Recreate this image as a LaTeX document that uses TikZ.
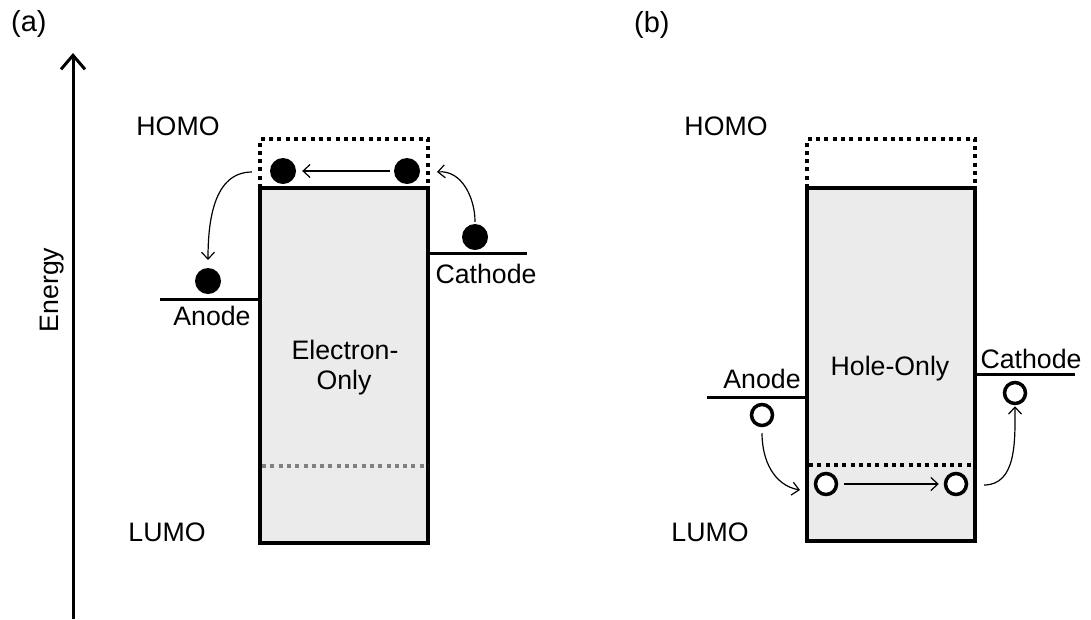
\documentclass[tikz,border=0pt]{standalone}
\usepackage{fontspec}
\setmainfont{Liberation Sans}
\usetikzlibrary{arrows.meta,calc}
\definecolor{boxfill}{RGB}{235,235,235}
\definecolor{dotgray}{RGB}{128,128,128}
\begin{document}
\begin{tikzpicture}[x=1pt,y=1pt,
  lbl/.style={font=\fontsize{26.7}{30}\selectfont, inner sep=0pt, anchor=base},
  panellbl/.style={font=\fontsize{29}{32}\selectfont, inner sep=0pt, anchor=base west},
  layerbox/.style={fill=boxfill, draw=black, line width=4pt},
  dotline/.style={line width=3.5pt, dash pattern=on 4pt off 4.3pt},
  level/.style={line width=3pt},
  electron/.style={circle, fill=black, minimum size=26pt, inner sep=0pt},
  hole/.style={circle, draw=black, fill=white, line width=3.5pt, minimum size=21pt, inner sep=0pt},
  flow/.style={line width=1.2pt, -{Straight Barb[length=7pt,width=13pt,line width=1.2pt]}},
  axisarrow/.style={line width=3pt, -{Straight Barb[length=14pt,width=24pt,line width=3pt]}}
]
\useasboundingbox (0,0) rectangle (1091,-619);

% axis
\coordinate (ax0) at (73,-619);
\coordinate (ax1) at (73,-53);
\draw[axisarrow] (ax0) -- (ax1);
\node[lbl, anchor=center, rotate=90] (energy) at (52,-290) {Energy};

% panel labels
\node[panellbl] (la) at (11,-31) {(a)};
\node[panellbl] (lb) at (634,-32) {(b)};

% ---------- panel (a) ----------
\draw[layerbox] (260,-188) rectangle (428,-543);
\draw[dotline] (260,-188) -- (260,-139) -- (428,-139) -- (428,-188);
\draw[dotline, dotgray] (262,-466) -- (428,-466);
\draw[level] (160,-299) -- (260,-299);
\draw[level] (428,-253) -- (527,-253);

\node[lbl] (homoa) at (178,-135.5) {HOMO};
\node[lbl] (lumoa) at (167,-541.5) {LUMO};
\node[lbl] (anodea) at (212,-325.5) {Anode};
\node[lbl] (cathodea) at (486,-283) {Cathode};
\node[lbl] (eo1) at (345,-359) {Electron-};
\node[lbl] (eo2) at (344,-389) {Only};

\node[electron] (e1) at (283,-171) {};
\node[electron] (e2) at (407,-171) {};
\node[electron] (e3) at (475,-237) {};
\node[electron] (e4) at (208,-281) {};

\draw[flow, shorten <=4pt, shorten >=6pt] (e2.west) -- (e1.east);
\coordinate (ta1) at (437,-172);
\draw[flow] ([yshift=2pt]e3.north) to[out=90,in=5] (ta1);
\coordinate (sa2) at (252,-172);
\coordinate (ta2) at (208,-260);
\draw[flow] (sa2) to[out=180,in=90] (ta2);

% ---------- panel (b) ----------
\draw[layerbox] (807,-188) rectangle (975,-541);
\draw[dotline] (807,-188) -- (807,-139) -- (975,-139) -- (975,-188);
\draw[dotline] (809,-465) -- (975,-465);
\draw[level] (707,-397) -- (807,-397);
\draw[level] (975,-374) -- (1075,-374);

\node[lbl] (homob) at (726,-135.5) {HOMO};
\node[lbl] (lumob) at (710,-541.5) {LUMO};
\node[lbl] (anodeb) at (762,-388) {Anode};
\node[lbl] (cathodeb) at (1031,-368) {Cathode};
\node[lbl] (ho) at (890,-375) {Hole-Only};

\node[hole] (h1) at (762,-415) {};
\node[hole] (h2) at (1015,-393) {};
\node[hole] (h3) at (826,-484) {};
\node[hole] (h4) at (956,-484) {};

\draw[flow, shorten <=6pt, shorten >=5pt] (h3.east) -- (h4.west);
\coordinate (tb1) at (800,-490);
\draw[flow] ([yshift=-6pt]h1.south) to[out=-90,in=170] (tb1);
\coordinate (sb2) at (984,-485);
\draw[flow] (sb2) to[out=0,in=-90] ([yshift=-1pt]h2.south);
\end{tikzpicture}
\end{document}
